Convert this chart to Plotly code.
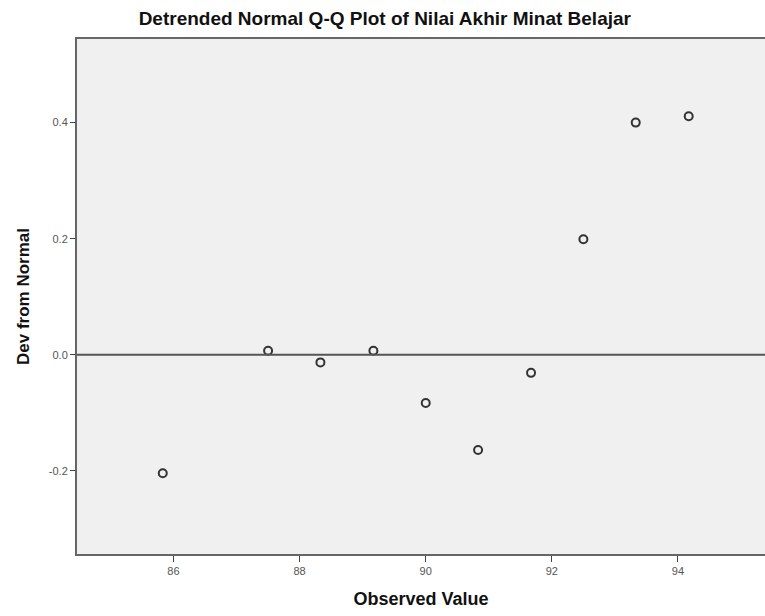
import plotly.graph_objects as go

# Observed values and their deviation from the normal expectation
observed = [85.83, 87.50, 88.33, 89.17, 90.00, 90.83, 91.67, 92.50, 93.33, 94.17]
deviation = [-0.204, 0.007, -0.013, 0.007, -0.083, -0.164, -0.031, 0.199, 0.400, 0.411]

x_ticks = [86, 88, 90, 92, 94]
y_ticks = [-0.2, 0.0, 0.2, 0.4]
y_tick_text = ["-0.2", "0.0", "0.2", "0.4"]

fig = go.Figure()

fig.add_trace(go.Scatter(
    x=observed,
    y=deviation,
    mode="markers",
    marker=dict(symbol="circle-open", size=8, color="#333333", line=dict(width=2, color="#333333")),
    showlegend=False,
    hoverinfo="x+y",
))

# Reference line at zero deviation
fig.add_hline(y=0, line=dict(color="#555555", width=2))

axis_font = dict(family="Liberation Sans, Arial, sans-serif", size=11, color="#555555")
title_family = "Liberation Sans, Arial, sans-serif"

fig.update_layout(
    width=765,
    height=616,
    margin=dict(l=77, r=0, t=39, b=62),
    paper_bgcolor="white",
    plot_bgcolor="#f0f0f0",
    title=dict(
        text="<b>Detrended Normal Q-Q Plot of Nilai Akhir Minat Belajar</b>",
        x=0.503, xanchor="center", y=0.971, yanchor="middle",
        font=dict(family=title_family, size=19, color="#111111"),
    ),
    xaxis=dict(
        range=[84.47, 95.38],
        tickvals=x_ticks,
        ticks="outside", ticklen=6, tickwidth=1, tickcolor="#444444",
        showgrid=False, zeroline=False,
        showline=True, linecolor="#666666", linewidth=2, mirror=True,
        tickfont=axis_font,
        title=dict(text="<b>Observed Value</b>", standoff=16,
                   font=dict(family=title_family, size=18, color="#111111")),
    ),
    yaxis=dict(
        range=[-0.343, 0.544],
        tickvals=y_ticks,
        ticktext=y_tick_text,
        ticks="outside", ticklen=5, tickwidth=1, tickcolor="#444444",
        showgrid=False, zeroline=False,
        showline=True, linecolor="#666666", linewidth=2,
        tickfont=axis_font,
        title=dict(text="<b>Dev from Normal</b>", standoff=15,
                   font=dict(family=title_family, size=17, color="#111111")),
    ),
)

fig.write_html("out.html")
